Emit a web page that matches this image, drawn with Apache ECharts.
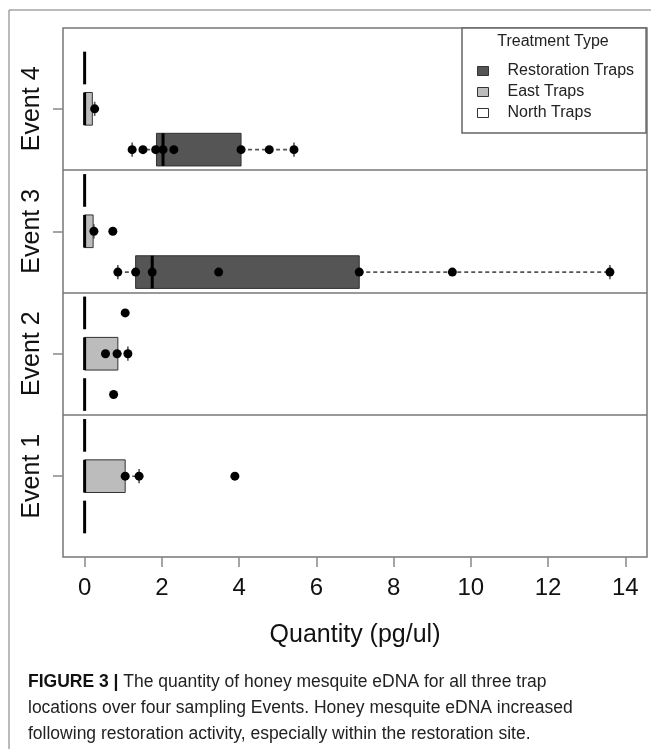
<!DOCTYPE html>
<html>
<head>
<meta charset="utf-8">
<script src="https://cdn.jsdelivr.net/npm/echarts@6/dist/echarts.min.js"></script>
<style>
html,body{margin:0;padding:0;background:#fff;}
#chart{width:651px;height:749px;}
</style>
</head>
<body>
<div id="chart"></div>
<script>
// ---- data ----
const events = ['Event 1', 'Event 2', 'Event 3', 'Event 4'];
const traps = ['North Traps', 'East Traps', 'Restoration Traps'];
// five-number summaries per event (Event 1..4): [min, q1, median, q3, max]
const northStats = [[0,0,0,0,0],[0,0,0,0,0],[0,0,0,0,0],[0,0,0,0,0]];
const eastStats = [[0,0,0,1.05,1.41],[0,0,0,0.86,1.12],[0,0,0,0.22,0.24],[0,0,0,0.20,0.26]];
const restorationStats = [[0,0,0,0,0],[0,0,0,0,0],[0.86,1.32,1.75,7.11,13.6],[1.23,1.86,2.03,4.05,5.42]];
// individual sample points per event (Event 1..4)
const northPoints = [[], [1.05], [], []];
const eastPoints = [[1.05,1.41,3.89],[0.54,0.84,1.12],[0.24,0.73],[0.26]];
const restorationPoints = [[],[0.75],[0.86,1.32,1.75,3.47,7.11,9.52,13.6],[1.23,1.51,1.84,2.03,2.31,4.05,4.78,5.42]];
const xTicks = [0, 2, 4, 6, 8, 10, 12, 14];
const xLabel = 'Quantity (pg/ul)';
const legendTitle = 'Treatment Type';

const FONT = '"Liberation Sans", Arial, Helvetica, sans-serif';
const fills = {'North Traps':'#ffffff','East Traps':'#bcbcbc','Restoration Traps':'#555555'};
const statsByTrap = [northStats, eastStats, restorationStats];
const pointsByTrap = [northPoints, eastPoints, restorationPoints];

function pos(ei, ti) { return (events.length - 1 - ei) * traps.length + ti + 1; }
const eventTickVals = events.map((e, ei) => pos(ei, 1));
const separators = [1, 2, 3].map(g => g * traps.length + 0.5);

function makeRender(fill) {
  return function (params, api) {
    const y = api.value(0);
    const mn = api.value(1), q1 = api.value(2), md = api.value(3), q3 = api.value(4), mx = api.value(5);
    const h = Math.abs(api.size([0, 0.8])[1]);
    const sh = Math.abs(api.size([0, 0.35])[1]);
    const pMin = api.coord([mn, y]), pQ1 = api.coord([q1, y]), pMd = api.coord([md, y]);
    const pQ3 = api.coord([q3, y]), pMx = api.coord([mx, y]);
    const cy = pMd[1];
    const wh = {stroke:'#555', lineWidth:1.6, lineDash:[4,3]};
    const st = {stroke:'#555', lineWidth:1.6};
    const ch = [];
    if (q1 > mn) {
      ch.push({type:'line', shape:{x1:pMin[0], y1:cy, x2:pQ1[0], y2:cy}, style:wh});
      ch.push({type:'line', shape:{x1:pMin[0], y1:cy - sh/2, x2:pMin[0], y2:cy + sh/2}, style:st});
    }
    if (mx > q3) {
      ch.push({type:'line', shape:{x1:pQ3[0], y1:cy, x2:pMx[0], y2:cy}, style:wh});
      ch.push({type:'line', shape:{x1:pMx[0], y1:cy - sh/2, x2:pMx[0], y2:cy + sh/2}, style:st});
    }
    if (q3 > q1) {
      ch.push({type:'rect', shape:{x:pQ1[0], y:cy - h/2, width:pQ3[0] - pQ1[0], height:h},
        style:{fill:fill, stroke:'#333', lineWidth:1}});
    }
    ch.push({type:'line', shape:{x1:pMd[0], y1:cy - h/2, x2:pMd[0], y2:cy + h/2},
      style:{stroke:'#000', lineWidth:3}});
    return {type:'group', children:ch};
  };
}

const series = traps.map((t, ti) => ({
  name: t,
  type: 'custom',
  renderItem: makeRender(fills[t]),
  itemStyle: {color: fills[t]},
  encode: {x:[1,2,3,4,5], y:0},
  data: events.map((e, ei) => [pos(ei, ti)].concat(statsByTrap[ti][ei])),
  z: 2
}));

const pts = [];
traps.forEach((t, ti) => events.forEach((e, ei) => pointsByTrap[ti][ei].forEach(v => pts.push([v, pos(ei, ti)]))));
series.push({
  name: 'points',
  type: 'scatter',
  data: pts,
  symbol: 'circle',
  symbolSize: 9,
  itemStyle: {color:'#000', opacity: 1},
  z: 5,
  silent: true,
  markLine: {
    silent: true,
    symbol: 'none',
    label: {show:false},
    lineStyle: {color:'#777', width:1.5, type:'solid'},
    data: separators.map(v => ({yAxis: v}))
  }
});

const chart = echarts.init(document.getElementById('chart'), null, {renderer:'canvas'});
chart.setOption({
  animation: false,
  backgroundColor: '#fff',
  textStyle: {fontFamily: FONT},
  grid: {left:63, top:28, right:4, bottom:192, show:true, borderColor:'#777', borderWidth:1.5, backgroundColor:'transparent'},
  xAxis: {
    type: 'value', min: -0.56, max: 14.56,
    name: xLabel, nameLocation: 'middle', nameGap: 66,
    nameTextStyle: {fontSize: 25, color:'#111', fontFamily: FONT},
    axisLine: {show:false, onZero:false},
    splitLine: {show:false},
    axisTick: {show:true, length:10, customValues: xTicks, lineStyle:{color:'#888', width:1.5}},
    axisLabel: {customValues: xTicks, fontSize:24, color:'#111', margin:19, fontFamily: FONT}
  },
  yAxis: {
    type: 'value', inverse: true, min: 0.02, max: 12.98,
    axisLine: {show:false, onZero:false},
    splitLine: {show:false},
    axisTick: {show:true, length:10, customValues: eventTickVals, lineStyle:{color:'#888', width:1.5}},
    axisLabel: {
      customValues: eventTickVals, rotate: 90, fontSize: 25, color:'#111', margin: 18, fontFamily: FONT,
      formatter: v => events[eventTickVals.indexOf(v)] || ''
    }
  },
  title: {
    text: legendTitle, left: 553, top: 34, textAlign: 'center', padding: 0,
    textStyle: {fontSize: 16, fontWeight: 'normal', color:'#222', fontFamily: FONT}
  },
  legend: {
    orient: 'vertical', left: 462, top: 28,
    padding: [35, 12, 12, 15],
    itemWidth: 11, itemHeight: 9, itemGap: 5,
    borderColor: '#666', borderWidth: 1.5, backgroundColor: '#fff',
    textStyle: {fontSize: 16, color:'#222', fontFamily: FONT, padding:[0,0,0,14]},
    data: traps.slice().reverse().map(t => ({
      name: t, icon: 'rect',
      itemStyle: {color: fills[t], borderColor: '#333', borderWidth: 1}
    }))
  },
  graphic: [
    {type:'line', shape:{x1:9, y1:10, x2:651, y2:10}, style:{stroke:'#777', lineWidth:1}, silent:true},
    {type:'line', shape:{x1:9, y1:10, x2:9, y2:749}, style:{stroke:'#777', lineWidth:1}, silent:true},
    {type:'text', left: 28, top: 669, silent:true,
     style: {
       text: '{b|FIGURE 3 |} The quantity of honey mesquite eDNA for all three trap\nlocations over four sampling Events. Honey mesquite eDNA increased\nfollowing restoration activity, especially within the restoration site.',
       fill: '#222', fontSize: 17.5, fontFamily: FONT, lineHeight: 26,
       rich: {b: {fontWeight:'bold', fontSize:17.5, fontFamily: FONT, fill:'#111', lineHeight:26}}
     }}
  ],
  series: series
});
</script>
</body>
</html>
